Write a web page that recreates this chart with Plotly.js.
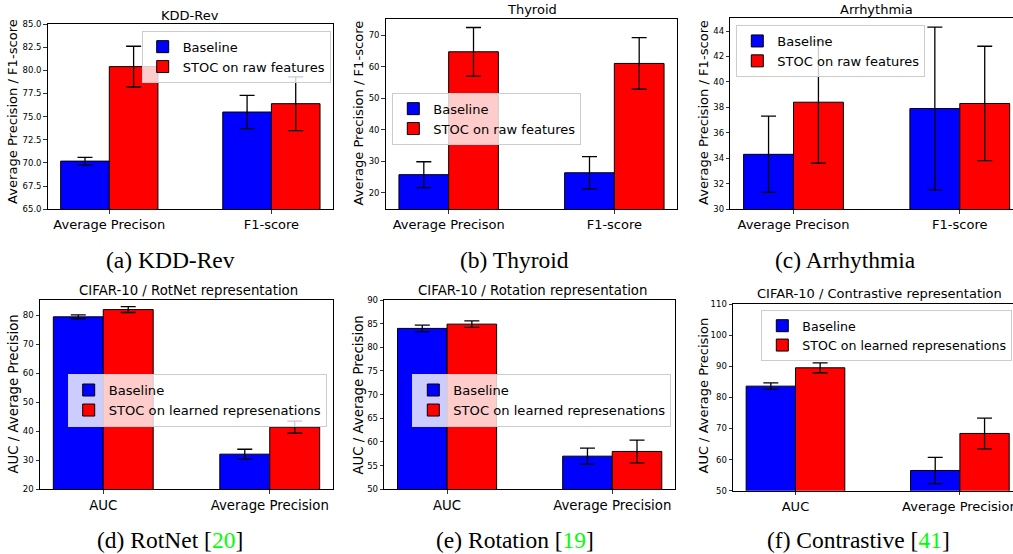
<!DOCTYPE html>
<html>
<head>
<meta charset="utf-8">
<script src="https://cdn.plot.ly/plotly-3.0.1.min.js"></script>
<style>
html, body { margin: 0; padding: 0; background: #ffffff; overflow: hidden; }
#chart { width: 1013px; height: 554px; }
</style>
</head>
<body>
<div id="chart"></div>
<script>
// ---------------- data ----------------
const topCategories = ['Average Precison', 'F1-score'];
const bottomCategories = ['AUC', 'Average Precision'];
const topSeriesNames = ['Baseline', 'STOC on raw features'];
const bottomSeriesNames = ['Baseline', 'STOC on learned represenations'];

const panelTitles = ['KDD-Rev', 'Thyroid', 'Arrhythmia',
  'CIFAR-10 / RotNet representation', 'CIFAR-10 / Rotation representation', 'CIFAR-10 / Contrastive representation'];
const topYTitle = 'Average Precision / F1-score';
const bottomYTitle = 'AUC / Average Precision';
const captionLabels = ['(a) KDD-Rev', '(b) Thyroid', '(c) Arrhythmia', '(d) RotNet', '(e) Rotation', '(f) Contrastive'];
const captionRefs = ['', '', '', '20', '19', '41'];

const kddBaseline = [70.2, 75.5];
const kddBaselineErr = [0.4, 1.8];
const kddStoc = [80.4, 76.4];
const kddStocErr = [2.2, 2.9];

const thyroidBaseline = [25.7, 26.3];
const thyroidBaselineErr = [4.1, 5.1];
const thyroidStoc = [64.7, 61.0];
const thyroidStocErr = [7.7, 8.2];

const arrhythmiaBaseline = [34.3, 37.9];
const arrhythmiaBaselineErr = [3.0, 6.4];
const arrhythmiaStoc = [38.4, 38.3];
const arrhythmiaStocErr = [4.8, 4.5];

const rotnetBaseline = [79.4, 32.1];
const rotnetBaselineErr = [0.7, 1.7];
const rotnetStoc = [81.9, 41.4];
const rotnetStocErr = [1.0, 2.1];

const rotationBaseline = [84.0, 57.0];
const rotationBaselineErr = [0.7, 1.7];
const rotationStoc = [84.9, 58.0];
const rotationStocErr = [0.7, 2.4];

const contrastiveBaseline = [83.6, 56.5];
const contrastiveBaselineErr = [1.05, 4.2];
const contrastiveStoc = [89.5, 68.4];
const contrastiveStocErr = [1.6, 4.95];

// ---------------- presentation ----------------
const W = 1013, H = 554;
const panels = [
  {cats: topCategories, names: topSeriesNames, b: kddBaseline, be: kddBaselineErr, s: kddStoc, se: kddStocErr},
  {cats: topCategories, names: topSeriesNames, b: thyroidBaseline, be: thyroidBaselineErr, s: thyroidStoc, se: thyroidStocErr},
  {cats: topCategories, names: topSeriesNames, b: arrhythmiaBaseline, be: arrhythmiaBaselineErr, s: arrhythmiaStoc, se: arrhythmiaStocErr},
  {cats: bottomCategories, names: bottomSeriesNames, b: rotnetBaseline, be: rotnetBaselineErr, s: rotnetStoc, se: rotnetStocErr},
  {cats: bottomCategories, names: bottomSeriesNames, b: rotationBaseline, be: rotationBaselineErr, s: rotationStoc, se: rotationStocErr},
  {cats: bottomCategories, names: bottomSeriesNames, b: contrastiveBaseline, be: contrastiveBaselineErr, s: contrastiveStoc, se: contrastiveStocErr}
];
// geometry in pixels + per-panel font sizes (title, x ticks, y ticks, legend, y title)
const geom = [
  {x0: 47.7, x1: 333, y0: 24, y1: 209.3, xr: [-0.38, 1.38], yr: [65, 85], dt: 2.5, fmt: '.1f', t: [190.4, 15.5], yt: [13, 112], lg: [141.7, 30.7], cap: [170, 260],
   fs: {title: 13, xtick: 13, ytick: 8.5, legend: 13, ytitle: 13.1}},
  {x0: 385.7, x1: 677.3, y0: 19, y1: 209, xr: [-0.38, 1.38], yr: [14.8, 75.1], dt: 10, fmt: 'd', t: [531.5, 9.5], yt: [357.5, 113], lg: [392.3, 92.7], cap: [514, 260],
   fs: {title: 13, xtick: 13, ytick: 8.5, legend: 13, ytitle: 13.1}},
  {x0: 730.3, x1: 1013, y0: 18.3, y1: 209, xr: [-0.38, 1.32], yr: [30, 45], dt: 2, fmt: 'd', t: [876, 9.5], yt: [703, 113], lg: [736.3, 25], cap: [845, 260],
   fs: {title: 13, xtick: 13, ytick: 8.5, legend: 13, ytitle: 13.1}},
  {x0: 40, x1: 333, y0: 300, y1: 489.3, xr: [-0.38, 1.38], yr: [20, 85.2], dt: 10, fmt: 'd', t: [188.3, 290.7], yt: [12.5, 394], lg: [67.7, 374], cap: [170, 540],
   fs: {title: 13.3, xtick: 13.3, ytick: 8.6, legend: 13.1, ytitle: 13.3}},
  {x0: 384.3, x1: 675, y0: 300, y1: 489.3, xr: [-0.38, 1.38], yr: [50, 90], dt: 5, fmt: 'd', t: [532.8, 290.7], yt: [357.5, 395], lg: [412.3, 374], cap: [515, 540],
   fs: {title: 13.3, xtick: 13.3, ytick: 8.6, legend: 13.1, ytitle: 13.3}},
  {x0: 733, x1: 1013, y0: 304, y1: 490.7, xr: [-0.38, 1.323], yr: [50, 110], dt: 10, fmt: 'd', t: [879.3, 293.5], yt: [703, 395.5], lg: [761.3, 310], cap: [858.5, 540],
   fs: {title: 13.0, xtick: 13.0, ytick: 8.5, legend: 12.6, ytitle: 13.0}}
];

const FONT = 'DejaVu Sans, sans-serif';
const SERIF = 'Liberation Serif, Times New Roman, serif';
const colors = ['#0000ff', '#ff0000'];
const offsets = [-0.3, 0];

const traces = [];
const layout = {
  width: W, height: H,
  margin: {l: 0, r: 0, t: 0, b: 0, autoexpand: false},
  paper_bgcolor: '#ffffff', plot_bgcolor: '#ffffff',
  barmode: 'overlay',
  hovermode: false,
  font: {family: FONT, color: '#000000'},
  annotations: []
};

panels.forEach((p, i) => {
  const g = geom[i];
  const f = g.fs;
  const sfx = i === 0 ? '' : String(i + 1);
  const legendId = 'legend' + sfx;
  [[p.b, p.be], [p.s, p.se]].forEach((pair, k) => {
    traces.push({
      type: 'bar',
      x: p.cats,
      y: pair[0],
      name: p.names[k],
      xaxis: 'x' + sfx,
      yaxis: 'y' + sfx,
      legend: legendId,
      width: 0.3,
      offset: offsets[k],
      marker: {color: colors[k], line: {color: '#000000', width: 1}},
      error_y: {type: 'data', array: pair[1], visible: true, color: '#000000', thickness: 1.3, width: 7.5}
    });
  });
  layout['xaxis' + sfx] = {
    domain: [g.x0 / W, g.x1 / W],
    anchor: 'y' + sfx,
    type: 'category',
    range: g.xr,
    automargin: false,
    showline: true, mirror: true, linecolor: '#000000', linewidth: 1,
    ticks: 'outside', ticklen: 3.5, tickwidth: 0.8, tickcolor: '#000000',
    showgrid: false, zeroline: false,
    tickfont: {family: FONT, size: f.xtick, color: '#000000'},
    fixedrange: true
  };
  layout['yaxis' + sfx] = {
    domain: [1 - g.y1 / H, 1 - g.y0 / H],
    anchor: 'x' + sfx,
    range: g.yr,
    automargin: false,
    dtick: g.dt, tick0: 0,
    tickformat: g.fmt,
    showline: true, mirror: true, linecolor: '#000000', linewidth: 1,
    ticks: 'outside', ticklen: 3.5, tickwidth: 0.8, tickcolor: '#000000',
    showgrid: false, zeroline: false,
    tickfont: {family: FONT, size: f.ytick, color: '#000000'},
    fixedrange: true
  };
  layout[legendId] = {
    x: g.lg[0] / W, y: 1 - g.lg[1] / H,
    xref: 'paper', yref: 'paper',
    xanchor: 'left', yanchor: 'top',
    bgcolor: 'rgba(255,255,255,0.8)',
    bordercolor: '#cccccc', borderwidth: 1,
    font: {family: FONT, size: f.legend, color: '#000000'},
    traceorder: 'normal',
    tracegroupgap: 0
  };
  // subplot title
  layout.annotations.push({
    text: panelTitles[i], xref: 'paper', yref: 'paper',
    x: g.t[0] / W, y: 1 - g.t[1] / H, xanchor: 'center', yanchor: 'middle',
    showarrow: false, font: {family: FONT, size: f.title, color: '#000000'}
  });
  // y axis title
  layout.annotations.push({
    text: i < 3 ? topYTitle : bottomYTitle, xref: 'paper', yref: 'paper',
    x: g.yt[0] / W, y: 1 - g.yt[1] / H, xanchor: 'center', yanchor: 'middle',
    textangle: -90, showarrow: false, font: {family: FONT, size: f.ytitle, color: '#000000'}
  });
  // caption
  const capText = captionRefs[i]
    ? captionLabels[i] + ' [<span style="color:#00ff00">' + captionRefs[i] + '</span>]'
    : captionLabels[i];
  layout.annotations.push({
    text: capText, xref: 'paper', yref: 'paper',
    x: g.cap[0] / W, y: 1 - g.cap[1] / H, xanchor: 'center', yanchor: 'middle',
    showarrow: false, font: {family: SERIF, size: 23.5, color: '#000000'}
  });
});

Plotly.newPlot('chart', traces, layout, {displayModeBar: false, staticPlot: true});
</script>
</body>
</html>
